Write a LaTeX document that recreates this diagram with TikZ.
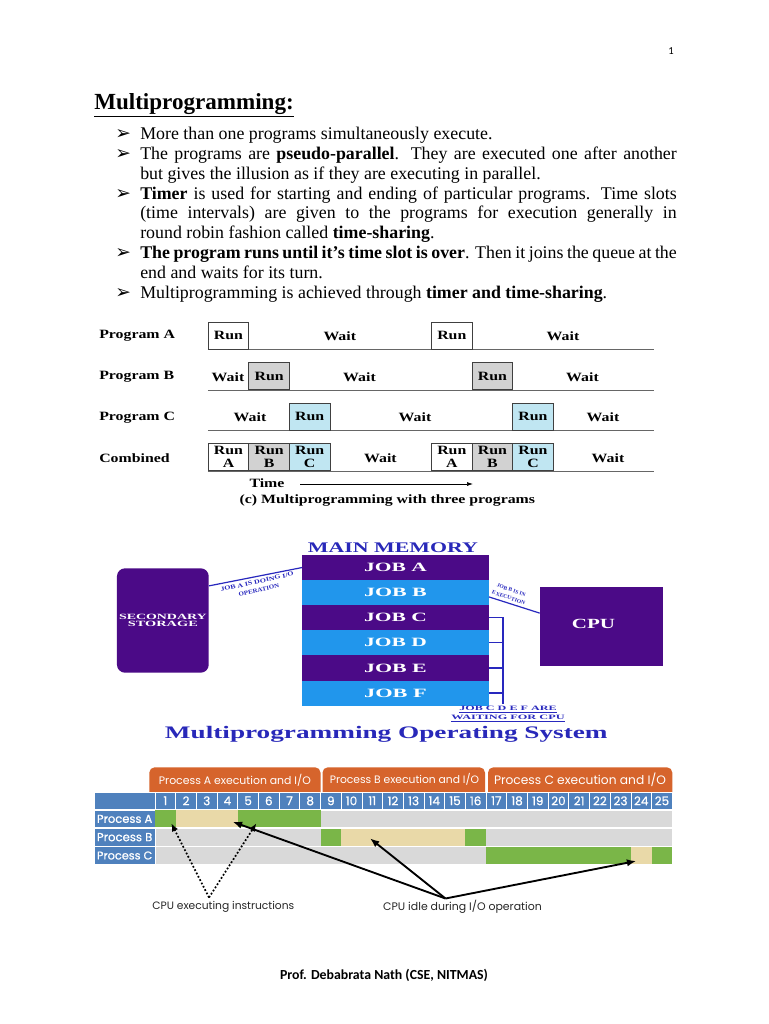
\documentclass[tikz,border=0pt]{standalone}
\usepackage{graphicx}
\usepackage{fontspec}
\setmainfont{Liberation Serif}
\newfontfamily\symfont{DejaVu Sans}
\newfontfamily\gothic{Poppins}
\newfontfamily\gothicsb[FakeBold=0.8]{Poppins}
\newfontfamily\calib{Carlito}
\usetikzlibrary{arrows.meta,calc}
\setlength{\parindent}{0pt}

\definecolor{mmpurple}{RGB}{75,10,135}
\definecolor{mmblue}{RGB}{33,150,236}
\definecolor{mmtitle}{RGB}{40,40,185}
\definecolor{lineblue}{RGB}{40,40,190}
\definecolor{runB}{RGB}{210,210,210}
\definecolor{runC}{RGB}{192,230,242}
\definecolor{gorange}{RGB}{214,100,44}
\definecolor{gblue}{RGB}{79,129,189}
\definecolor{ggray}{RGB}{217,217,217}
\definecolor{ggreen}{RGB}{122,182,72}
\definecolor{gtan}{RGB}{233,217,168}

\newcommand\figfont{\fontsize{9.5}{10}\selectfont\bfseries}
\newcommand\memfont{\fontsize{9.5}{10}\selectfont\bfseries}
\newcommand\tinyfont{\fontsize{4.5}{6.5}\selectfont\bfseries}
\newcommand\wide[1]{\scalebox{1.25}[1]{#1}}
\newcommand\fitw[2]{\resizebox{#1}{\height}{#2}}
\newcommand\gfit[2]{\resizebox{#1}{!}{#2}}
\newcommand\bul{\leavevmode\llap{{\symfont\fontsize{14}{14}\selectfont ➢}\hspace{7pt}}}

\tikzset{
  body/.style={inner sep=0pt, text width=402.4pt, align=justify,
    font=\fontsize{13.4}{14.85}\selectfont},
  runbox/.style={draw=black!75, line width=0.6pt, anchor=south west,
    minimum width=30.45pt, minimum height=20.25pt, inner sep=0pt,
    font=\figfont, align=center},
  tline/.style={draw=black!60, line width=0.6pt},
  prog/.style={anchor=west, inner sep=0pt, font=\figfont},
  wlbl/.style={inner sep=0pt, font=\figfont},
  band/.style={minimum width=140.25pt, minimum height=18.83pt, inner sep=0pt,
    outer sep=0pt, text=white, font=\memfont},
  mmconn/.style={draw=lineblue, line width=0.9pt},
  tiny/.style={inner sep=0pt, text=lineblue, font=\tinyfont, align=center},
  gcell/.style={draw=white, line width=0.5pt, inner sep=0pt, outer sep=0pt,
    minimum height=12.75pt},
  numcell/.style={gcell, fill=gblue, minimum width=15.52pt, text=white,
    font=\gothicsb\fontsize{9}{9}\selectfont},
  rowlbl/.style={gcell, fill=gblue, minimum width=45.75pt, minimum height=13.2pt},
  rowtxt/.style={anchor=west, inner sep=0pt, text=white, font=\gothicsb\fontsize{8}{8}\selectfont},
  rowbg/.style={gcell, fill=ggray, minimum width=388pt, minimum height=13.2pt, anchor=west},
  span/.style={inner sep=0pt, outer sep=0pt, minimum height=12.7pt, anchor=west},
  tabtxt/.style={inner sep=0pt, text=white, font=\gothic\fontsize{8}{8}\selectfont},
  annot/.style={inner sep=0pt, text=black!85, font=\gothic\fontsize{8}{8}\selectfont},
  dotarr/.style={-{Latex[length=6pt,width=5pt]}, line width=1.3pt,
    dash pattern=on 1.3pt off 1.5pt},
  solarr/.style={-{Latex[length=7pt,width=5.5pt]}, line width=1.4pt},
}

\begin{document}
\begin{tikzpicture}[x=0.75pt, y=-0.75pt]
  \useasboundingbox (0,0) rectangle (768,1024);
  \fill[white] (0,0) rectangle (768,1024);

  % page number and heading
  \node[font=\calib\fontsize{8}{8}\selectfont] (pgno) at (671,51) {1};
  \node[anchor=base west, inner sep=0pt, font=\fontsize{17.3}{20}\selectfont\bfseries]
    (head) at (94,109) {\underline{Multiprogramming:}};
  \node[body, anchor=north west] (bullets) at (140,127) {%
    \bul More than one programs simultaneously execute.\par
    \bul The programs are \textbf{pseudo-parallel}. They are executed one after another
      \linebreak but gives the illusion as if they are executing in parallel.\par
    \bul \textbf{Timer} is used for starting and ending of particular programs. Time slots
      \linebreak (time intervals) are given to the programs for execution generally in
      \linebreak round robin fashion called \textbf{time-sharing}.\par
    \bul \textbf{The program runs until it’s time slot is over}. Then it joins the queue at the
      \linebreak end and waits for its turn.\par
    \bul Multiprogramming is achieved through \textbf{timer and time-sharing}.};

  % run / wait time lines
  \node[prog] (pA) at (99,336) {\wide{Program A}};
  \node[prog] (pB) at (99,377) {\wide{Program B}};
  \node[prog] (pC) at (99,417.5) {\wide{Program C}};
  \node[prog] (pX) at (99,458) {\wide{Combined}};
  \draw[tline] (207.8,349.5) -- (654.4,349.5);
  \draw[tline] (207.8,390) -- (654.4,390);
  \draw[tline] (207.8,430.5) -- (654.4,430.5);
  \draw[tline] (207.8,471) -- (654.4,471);
  \node[runbox, fill=white] (rA1) at (207.8,349.5) {\wide{Run}};
  \node[runbox, fill=white] (rA2) at (431.1,349.5) {\wide{Run}};
  \node[runbox, fill=runB] (rB1) at (248.4,390) {\wide{Run}};
  \node[runbox, fill=runB] (rB2) at (471.7,390) {\wide{Run}};
  \node[runbox, fill=runC] (rC1) at (289,430.5) {\wide{Run}};
  \node[runbox, fill=runC] (rC2) at (512.3,430.5) {\wide{Run}};
  \node[runbox, fill=white] (xA1) at (207.8,471) {\wide{Run}\\\wide{A}};
  \node[runbox, fill=runB] (xB1) at (248.4,471) {\wide{Run}\\\wide{B}};
  \node[runbox, fill=runC] (xC1) at (289,471) {\wide{Run}\\\wide{C}};
  \node[runbox, fill=white] (xA2) at (431.1,471) {\wide{Run}\\\wide{A}};
  \node[runbox, fill=runB] (xB2) at (471.7,471) {\wide{Run}\\\wide{B}};
  \node[runbox, fill=runC] (xC2) at (512.3,471) {\wide{Run}\\\wide{C}};
  \node[wlbl] (wA1) at (339.8,336) {\wide{Wait}};
  \node[wlbl] (wA2) at (563,336) {\wide{Wait}};
  \node[wlbl] (wB1) at (228,377) {\wide{Wait}};
  \node[wlbl] (wB2) at (359.5,377) {\wide{Wait}};
  \node[wlbl] (wB3) at (582.5,377) {\wide{Wait}};
  \node[wlbl] (wC1) at (250,417.5) {\wide{Wait}};
  \node[wlbl] (wC2) at (415,417.5) {\wide{Wait}};
  \node[wlbl] (wC3) at (603,417.5) {\wide{Wait}};
  \node[wlbl] (wX1) at (380.4,458) {\wide{Wait}};
  \node[wlbl] (wX2) at (608,458) {\wide{Wait}};
  \node[wlbl] (time) at (267,483.3) {\wide{Time}};
  \coordinate (tarr0) at (300,484);
  \coordinate (tarr1) at (473,484);
  \draw[-{Latex[length=4.5pt,width=3pt]}, line width=0.5pt] (tarr0) -- (tarr1);
  \node[wlbl] (capc) at (387.3,500) {\wide{(c) Multiprogramming with three programs}};

  % main memory
  \node[inner sep=0pt, text=mmtitle, font=\fontsize{11}{12}\selectfont\bfseries]
    (mmtitle) at (393,547.3) {\fitw{127.5pt}{MAIN MEMORY}};
  \node[band, fill=mmpurple] (jobA) at (395.5,567.55) {\fitw{47pt}{JOB A}};
  \node[band, fill=mmblue] (jobB) at (395.5,592.65) {\fitw{47pt}{JOB B}};
  \node[band, fill=mmpurple] (jobC) at (395.5,617.75) {\fitw{47pt}{JOB C}};
  \node[band, fill=mmblue] (jobD) at (395.5,642.85) {\fitw{47pt}{JOB D}};
  \node[band, fill=mmpurple] (jobE) at (395.5,667.95) {\fitw{47pt}{JOB E}};
  \node[band, fill=mmblue] (jobF) at (395.5,693.05) {\fitw{47pt}{JOB F}};
  \node[fill=mmpurple, rounded corners=6pt, minimum width=68.8pt, minimum height=78.3pt,
    inner sep=0pt, text=white, align=center, font=\fontsize{6}{5}\selectfont\bfseries]
    (ss) at (162.85,620.5) {\fitw{65.7pt}{SECONDARY}\\\fitw{52.5pt}{STORAGE}};
  \node[fill=mmpurple, minimum width=92.1pt, minimum height=59pt, inner sep=0pt] (cpu) at (601.4,626.6) {};
  \node[inner sep=0pt, text=white, font=\fontsize{10.5}{11}\selectfont\bfseries]
    (cputxt) at (593.5,624) {\fitw{32.4pt}{CPU}};
  \draw[mmconn] ($(ss.north east)!0.17!(ss.south east)$) -- (jobA.west);
  \node[tiny, rotate=12.5] (ioA) at (258,586) {\fitw{56pt}{JOB A IS DOING I/O}\\\fitw{31pt}{OPERATION}};
  \draw[mmconn] ($(jobB.north east)!0.67!(jobB.south east)$) -- ($(cpu.north west)!0.33!(cpu.south west)$);
  \node[tiny, rotate=-19, font=\fontsize{4}{6}\selectfont\bfseries] (exB) at (510,594)
    {\fitw{22.5pt}{JOB B IS IN}\\\fitw{26pt}{EXECUTION}};
  \coordinate (brk) at (503,704);
  \draw[mmconn] (jobC.east) -| (brk);
  \draw[mmconn] (jobD.east) -- (jobD.east -| brk);
  \draw[mmconn] (jobE.east) -- (jobE.east -| brk);
  \draw[mmconn] (jobF.east) -- (jobF.east -| brk);
  \node[tiny, font=\fontsize{5}{5}\selectfont\bfseries] (waitcpu) at (508,714)
    {\fitw{73pt}{\underline{JOB C D E F ARE}}\\\fitw{85pt}{\underline{WAITING FOR CPU}}};
  \node[inner sep=0pt, text=mmtitle, font=\fontsize{13.2}{14}\selectfont\bfseries]
    (mos) at (386.3,734) {\fitw{332pt}{Multiprogramming Operating System}};

  % process chart
  \fill[gorange] (149.3,792.3) [rounded corners=4pt] -- (149.3,767.3) -- (320.5,767.3)
    [sharp corners] -- (320.5,792.3) -- cycle;
  \fill[gorange] (322.5,792.3) [rounded corners=4pt] -- (322.5,767.3) -- (485,767.3)
    [sharp corners] -- (485,792.3) -- cycle;
  \fill[gorange] (488,792.3) [rounded corners=4pt] -- (488,767.3) -- (672.3,767.3)
    [sharp corners] -- (672.3,792.3) -- cycle;
  \node[tabtxt] (tabA) at (234.9,779.8) {\gfit{114pt}{Process A execution and I/O}};
  \node[tabtxt] (tabB) at (404.5,779.8) {\gfit{112pt}{Process B execution and I/O}};
  \node[tabtxt] (tabC) at (580,779.8) {\gfit{129pt}{Process C execution and I/O}};
  \node[gcell, fill=gblue, minimum width=45.75pt] (blank) at (124.5,800.8) {};
  \foreach \n in {1,...,25}
    \node[numcell] (n\n) at ({155+20.69*(\n-0.5)},800.8) {\n};
  \node[rowlbl] (rowA) at (124.5,818.85) {};
  \node[rowlbl] (rowB) at (124.5,837.15) {};
  \node[rowlbl] (rowC) at (124.5,855.5) {};
  \node[rowtxt] (rowAt) at (96.7,818.85) {\gfit{41.5pt}{Process A}};
  \node[rowtxt] (rowBt) at (96.7,837.15) {\gfit{41.5pt}{Process B}};
  \node[rowtxt] (rowCt) at (96.7,855.5) {\gfit{41.5pt}{Process C}};
  \node[rowbg] (bgA) at (155,818.85) {};
  \node[rowbg] (bgB) at (155,837.15) {};
  \node[rowbg] (bgC) at (155,855.5) {};
  \node[span, fill=ggreen, minimum width=15.52pt] (pa1) at (155,818.85) {};
  \node[span, fill=gtan, minimum width=3*15.52pt] (pa2) at (175.69,818.85) {};
  \node[span, fill=ggreen, minimum width=4*15.52pt] (pa3) at (237.76,818.85) {};
  \node[span, fill=ggreen, minimum width=15.52pt] (pb1) at (320.52,837.15) {};
  \node[span, fill=gtan, minimum width=6*15.52pt] (pb2) at (341.21,837.15) {};
  \node[span, fill=ggreen, minimum width=15.52pt] (pb3) at (465.35,837.15) {};
  \node[span, fill=ggreen, minimum width=7*15.52pt] (pc1) at (486.04,855.5) {};
  \node[span, fill=gtan, minimum width=15.52pt] (pc2) at (630.87,855.5) {};
  \node[span, fill=ggreen, minimum width=15.52pt] (pc3) at (651.56,855.5) {};
  \node[annot] (exectxt) at (223.3,906.7) {\gfit{106.5pt}{CPU executing instructions}};
  \node[annot] (idletxt) at (462.5,906.7) {\gfit{119pt}{CPU idle during I/O operation}};
  \coordinate (exapex) at (209,897.5);
  \coordinate (idapex) at (445.5,898.5);
  \draw[dotarr] (exapex) -- ($(pa1.center)+(6,4.5)$);
  \draw[dotarr] (exapex) -- ($(pa3.west)+(18.6,4.5)$);
  \draw[solarr] (idapex) -- ($(pa2.east)+(-5,3)$);
  \draw[solarr] (idapex) -- ($(pb2.west)+(28.8,1.2)$);
  \draw[solarr] (idapex) -- ($(pc2.center)+(-5,5.5)$);

  % footer
  \node[font=\calib\bfseries\fontsize{9.5}{10}\selectfont] (foot) at (384,975)
    {\gfit{156pt}{Prof. Debabrata Nath (CSE, NITMAS)}};
\end{tikzpicture}
\end{document}
